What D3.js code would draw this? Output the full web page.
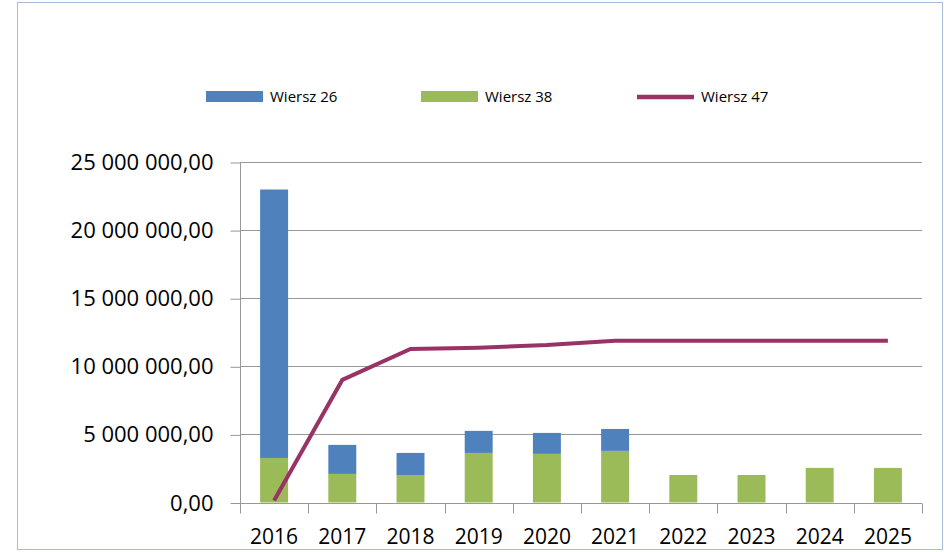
<!DOCTYPE html>
<html>
<head>
<meta charset="utf-8">
<script src="https://cdn.jsdelivr.net/npm/d3@7"></script>
<style>
  html, body { margin: 0; padding: 0; background: #fff; }
  svg { display: block; }
</style>
</head>
<body>
<svg id="chart" width="944" height="552"></svg>
<script>
// data
const years = ['2016', '2017', '2018', '2019', '2020', '2021', '2022', '2023', '2024', '2025']
const wiersz38 = [3270000, 2100000, 2020000, 3640000, 3570000, 3790000, 2020000, 2020000, 2540000, 2540000]
const wiersz26 = [19710000, 2130000, 1620000, 1620000, 1540000, 1610000, 0, 0, 0, 0]
const wiersz47 = [150000, 9000000, 11270000, 11360000, 11560000, 11880000, 11880000, 11880000, 11880000, 11880000]
const yTicks = [0, 5000000, 10000000, 15000000, 20000000, 25000000]
const seriesNames = ['Wiersz 26', 'Wiersz 38', 'Wiersz 47']

const colors = {blue: '#4F81BD', green: '#9BBB59', line: '#993366'}
const font = '"Open Sans", "Liberation Sans", sans-serif'

const svg = d3.select('#chart')
const plot = {left: 240, right: 922, top: 162, bottom: 502.5}

const pl = d3.formatLocale({decimal: ',', thousands: '\u00a0', grouping: [3], currency: ['', '']})
const fmt = pl.format(',.2f')

// outer frame
svg.append('rect')
    .attr('x', 17.5).attr('y', 2.5)
    .attr('width', 925).attr('height', 547)
    .attr('fill', '#fff')
    .attr('stroke', '#A7BCD6')
    .attr('stroke-width', 1)

const xScale = d3.scaleBand()
    .domain(years)
    .range([plot.left, plot.right])
    .paddingInner(0).paddingOuter(0)

const yScale = d3.scaleLinear()
    .domain([0, 25000000])
    .range([plot.bottom, plot.top])

// gridlines
svg.append('g')
    .selectAll('line')
    .data(yTicks.slice(1))
    .join('line')
    .attr('x1', plot.left).attr('x2', plot.right)
    .attr('y1', d => Math.round(yScale(d)) + 0.5)
    .attr('y2', d => Math.round(yScale(d)) + 0.5)
    .attr('stroke', '#989898')
    .attr('stroke-width', 1)

// y axis
const yAxis = svg.append('g')
    .attr('transform', `translate(${plot.left + 0.5},0.5)`)
    .call(d3.axisLeft(yScale).tickValues(yTicks).tickFormat(fmt).tickSize(10).tickPadding(17))
yAxis.select('.domain').attr('stroke', '#989898').attr('d', `M-0,${plot.top - 0.5}V${plot.bottom}`)
yAxis.selectAll('.tick line').attr('stroke', '#989898')
yAxis.selectAll('.tick text')
    .attr('fill', '#000')
    .style('font-family', font)
    .style('font-size', '22px')

// bars
const barW = xScale.bandwidth() * 0.41
const barX = d => xScale(d) + (xScale.bandwidth() - barW) / 2

svg.append('g')
    .selectAll('rect')
    .data(years)
    .join('rect')
    .attr('x', d => barX(d))
    .attr('width', barW)
    .attr('y', (d, i) => yScale(wiersz38[i]))
    .attr('height', (d, i) => yScale(0) - yScale(wiersz38[i]))
    .attr('fill', colors.green)

svg.append('g')
    .selectAll('rect')
    .data(years)
    .join('rect')
    .attr('x', d => barX(d))
    .attr('width', barW)
    .attr('y', (d, i) => yScale(wiersz38[i] + wiersz26[i]))
    .attr('height', (d, i) => yScale(wiersz38[i]) - yScale(wiersz38[i] + wiersz26[i]))
    .attr('fill', colors.blue)

// x axis
const xAxis = svg.append('g')
    .attr('transform', `translate(0,${Math.round(plot.bottom) + 0.5})`)
xAxis.append('line')
    .attr('x1', plot.left).attr('x2', plot.right)
    .attr('stroke', '#989898')
const boundaries = years.map(d => xScale(d)).concat([plot.right])
xAxis.selectAll('line.tk')
    .data(boundaries)
    .join('line')
    .attr('class', 'tk')
    .attr('x1', d => Math.round(d) + 0.5).attr('x2', d => Math.round(d) + 0.5)
    .attr('y1', 0).attr('y2', 10)
    .attr('stroke', '#989898')
xAxis.selectAll('text')
    .data(years)
    .join('text')
    .attr('x', d => xScale(d) + xScale.bandwidth() / 2)
    .attr('y', 40)
    .attr('text-anchor', 'middle')
    .style('font-family', font)
    .style('font-size', '21px')
    .text(d => d)

// line series
const line = d3.line()
    .x((d, i) => xScale(years[i]) + xScale.bandwidth() / 2)
    .y(d => yScale(d))
svg.append('path')
    .datum(wiersz47)
    .attr('d', line)
    .attr('fill', 'none')
    .attr('stroke', colors.line)
    .attr('stroke-width', 4)

// legend
const legendX = [206, 421, 637]
const legend = svg.append('g')
    .selectAll('g')
    .data(seriesNames)
    .join('g')
    .attr('transform', (d, i) => `translate(${legendX[i]},97)`)
legend.each(function (d, i) {
  const g = d3.select(this)
  if (i < 2) {
    g.append('rect')
        .attr('x', 0).attr('y', -6)
        .attr('width', 57).attr('height', 11)
        .attr('fill', i === 0 ? colors.blue : colors.green)
  } else {
    g.append('line')
        .attr('x1', 0).attr('x2', 57)
        .attr('stroke', colors.line)
        .attr('stroke-width', 4.5)
  }
  g.append('text')
      .attr('x', 64)
      .attr('dy', '0.35em')
      .style('font-family', font)
      .style('font-size', '15px')
      .text(d)
})
</script>
</body>
</html>
